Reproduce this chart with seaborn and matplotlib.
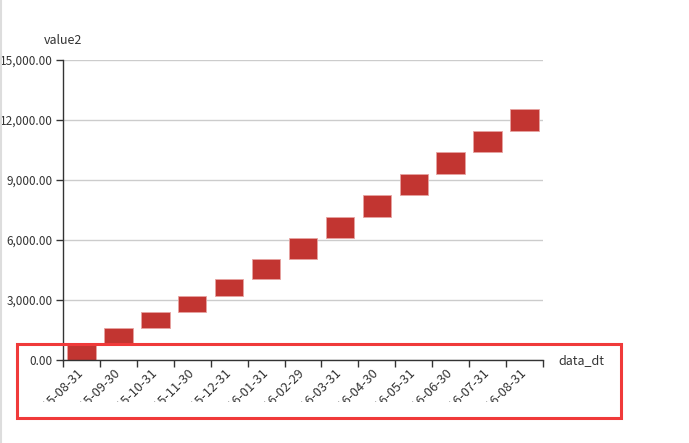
import numpy as np
import matplotlib
matplotlib.use("Agg")
import matplotlib.pyplot as plt
import seaborn as sns
from matplotlib.transforms import Bbox
from matplotlib.patches import Rectangle
from matplotlib.lines import Line2D
from matplotlib.ticker import FuncFormatter

# ---- data ----
categories = ["2015-08-31", "2015-09-30", "2015-10-31", "2015-11-30", "2015-12-31",
              "2016-01-31", "2016-02-29", "2016-03-31", "2016-04-30", "2016-05-31",
              "2016-06-30", "2016-07-31", "2016-08-31"]
bar_base = [0, 835, 1585, 2385, 3200, 4035, 5065, 6115, 7165, 8235, 9285, 10385, 11450]
bar_amount = [835, 750, 800, 815, 835, 1030, 1050, 1050, 1070, 1050, 1100, 1065, 1085]
y_ticks = [0, 3000, 6000, 9000, 12000, 15000]

sns.set_style("white")
plt.rcParams["font.family"] = ["Noto Sans CJK SC", "DejaVu Sans"]

W, H = 689, 443
fig = plt.figure(figsize=(W / 100, H / 100), dpi=100)
ax = fig.add_axes([63 / W, (H - 360) / H, 480 / W, 300 / H])

sns.barplot(x=categories, y=bar_amount, bottom=bar_base, color="#c23531",
            saturation=1, width=0.77, edgecolor="#e7a3a1", linewidth=0.6, ax=ax)

ax.set_xlim(-0.5, len(categories) - 0.5)
ax.set_ylim(0, 15000)
ax.set_yticks(y_ticks)
ax.yaxis.set_major_formatter(FuncFormatter(lambda v, p: f"{v:,.2f}"))
ax.set_xlabel("")
ax.set_ylabel("")

for s in ["top", "right"]:
    ax.spines[s].set_visible(False)
for s in ["left", "bottom"]:
    ax.spines[s].set_color("#333333")
    ax.spines[s].set_linewidth(1)

ax.yaxis.grid(True, color="#cccccc", linewidth=1)
ax.xaxis.grid(False)
ax.set_axisbelow(True)

ax.tick_params(axis="y", length=5, width=1, color="#333333", pad=2.5,
               labelsize=8.5, labelcolor="#333333", left=True)
ax.set_xticks(np.arange(len(categories)))
ax.set_xticks(np.arange(-0.5, len(categories)), minor=True)
ax.tick_params(axis="x", which="major", length=0, pad=8, labelsize=9.2,
               labelcolor="#333333")
ax.tick_params(axis="x", which="minor", length=5, width=1, color="#333333",
               bottom=True)

clip = Bbox.from_extents(0, H - 402, W, H)
for lbl in ax.get_xticklabels():
    lbl.set_rotation(45)
    lbl.set_ha("right")
    lbl.set_va("center")
    lbl.set_rotation_mode("anchor")
    lbl.set_clip_on(True)
    lbl.set_clip_box(clip)

fig.text(63 / W, 1 - 41 / H, "value2", ha="center", va="center",
         fontsize=9, color="#333333")
fig.text(558 / W, 1 - 361 / H, "data_dt", ha="left", va="center",
         fontsize=9, color="#333333")

fig.add_artist(Line2D([1 / W, 1 / W], [0, 1], color="#dddddd", linewidth=1.5))
fig.add_artist(Rectangle((17 / W, (H - 418) / H), (621 - 17) / W, (418 - 344) / H,
                         transform=fig.transFigure, fill=False,
                         edgecolor="#f03a3a", linewidth=2.2))

fig.savefig("out.png", dpi=100)
